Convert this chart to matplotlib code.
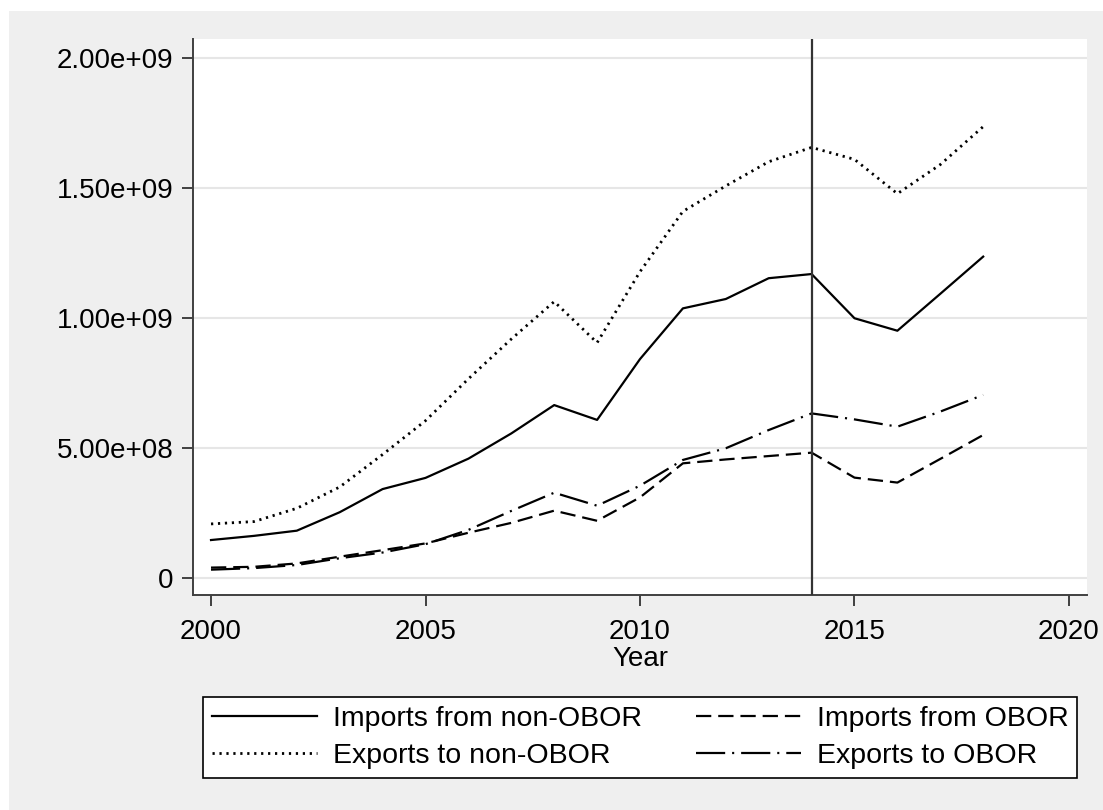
import matplotlib
matplotlib.use("Agg")
import matplotlib.pyplot as plt
from matplotlib.patches import Rectangle
from matplotlib.ticker import FixedLocator

plt.rcParams['font.family'] = ['Liberation Sans', 'DejaVu Sans']
plt.rcParams['lines.scale_dashes'] = False

years = list(range(2000, 2019))
imports_non_obor = [1.46e8, 1.62e8, 1.82e8, 2.53e8, 3.42e8, 3.85e8, 4.59e8, 5.56e8, 6.65e8, 6.08e8,
                    8.42e8, 1.037e9, 1.073e9, 1.153e9, 1.169e9, 0.999e9, 0.951e9, 1.093e9, 1.236e9]
exports_non_obor = [2.08e8, 2.17e8, 2.68e8, 3.50e8, 4.75e8, 6.05e8, 7.66e8, 9.19e8, 1.063e9, 9.05e8,
                    1.178e9, 1.410e9, 1.508e9, 1.601e9, 1.656e9, 1.610e9, 1.478e9, 1.590e9, 1.736e9]
imports_obor = [0.40e8, 0.43e8, 0.56e8, 0.82e8, 1.07e8, 1.33e8, 1.74e8, 2.12e8, 2.59e8, 2.20e8,
                3.10e8, 4.41e8, 4.56e8, 4.69e8, 4.82e8, 3.86e8, 3.67e8, 4.58e8, 5.50e8]
exports_obor = [0.32e8, 0.38e8, 0.50e8, 0.76e8, 0.98e8, 1.30e8, 1.85e8, 2.58e8, 3.28e8, 2.78e8,
                3.55e8, 4.54e8, 4.99e8, 5.69e8, 6.33e8, 6.10e8, 5.82e8, 6.40e8, 7.04e8]

labels = ["Imports from non-OBOR", "Imports from OBOR", "Exports to non-OBOR", "Exports to OBOR"]
vline_year = 2014
x_ticks = [2000, 2005, 2010, 2015, 2020]
y_ticks = [0, 5e8, 1e9, 1.5e9, 2e9]
y_tick_labels = ["0", "5.00e+08", "1.00e+09", "1.50e+09", "2.00e+09"]

W, H = 1103, 810
fig = plt.figure(figsize=(W / 100, H / 100), dpi=100)
fig.patch.set_facecolor('white')
bg = Rectangle((9 / W, 0), 1 - 9 / W, 1 - 11 / H, transform=fig.transFigure,
               facecolor='#efefef', edgecolor='none', zorder=-10)
fig.patches.append(bg)

ax = fig.add_axes([193 / W, 1 - 595 / H, (1087 - 193) / W, (595 - 39) / H])
ax.set_zorder(1)
ax.set_facecolor('white')

lw = 1.6
h1, = ax.plot(years, imports_non_obor, color='black', lw=lw, linestyle='-', label=labels[0])
h2, = ax.plot(years, imports_obor, color='black', lw=lw, linestyle=(0, (11, 5)), label=labels[1])
h3, = ax.plot(years, exports_non_obor, color='black', lw=lw + 0.4, linestyle=(0, (1.6, 3.4)), label=labels[2])
h4, = ax.plot(years, exports_obor, color='black', lw=lw, linestyle=(0, (21, 5, 1.5, 5)), label=labels[3])

ax.axvline(vline_year, color='#333333', lw=1.6, zorder=3)

ax.set_xlim(1999.58, 2020.42)
ax.set_ylim(-0.654e8, 2.073e9)

ax.yaxis.set_major_locator(FixedLocator(y_ticks))
ax.set_yticklabels(y_tick_labels)
ax.xaxis.set_major_locator(FixedLocator(x_ticks))

ax.grid(axis='y', color='#e6e6e6', lw=1.5, zorder=0)
ax.set_axisbelow(True)

for s in ['top', 'right']:
    ax.spines[s].set_visible(False)
for s in ['left', 'bottom']:
    ax.spines[s].set_color('#404040')
    ax.spines[s].set_linewidth(1.4)

ax.tick_params(axis='both', colors='#404040', labelcolor='black', labelsize=20, length=8, width=1.4)
ax.tick_params(axis='y', pad=6)
ax.tick_params(axis='x', pad=9)

ax.set_xlabel("Year", fontsize=20, labelpad=1)

leg = fig.legend([h1, h3, h2, h4], [labels[0], labels[2], labels[1], labels[3]],
                 loc='lower left', bbox_to_anchor=(203 / W, 1 - 778 / H, (1077 - 203) / W, (778 - 688) / H),
                 mode='expand', ncol=2, fontsize=20.5, frameon=True, fancybox=False,
                 edgecolor='black', handlelength=3.7, handletextpad=0.55, columnspacing=1.0,
                 borderaxespad=0, labelspacing=0.42, borderpad=0.3)
leg.get_frame().set_linewidth(1.2)
leg.get_frame().set_facecolor('white')
leg.get_frame().set_alpha(1)

fig.savefig("out.png", dpi=100, facecolor=fig.get_facecolor())
